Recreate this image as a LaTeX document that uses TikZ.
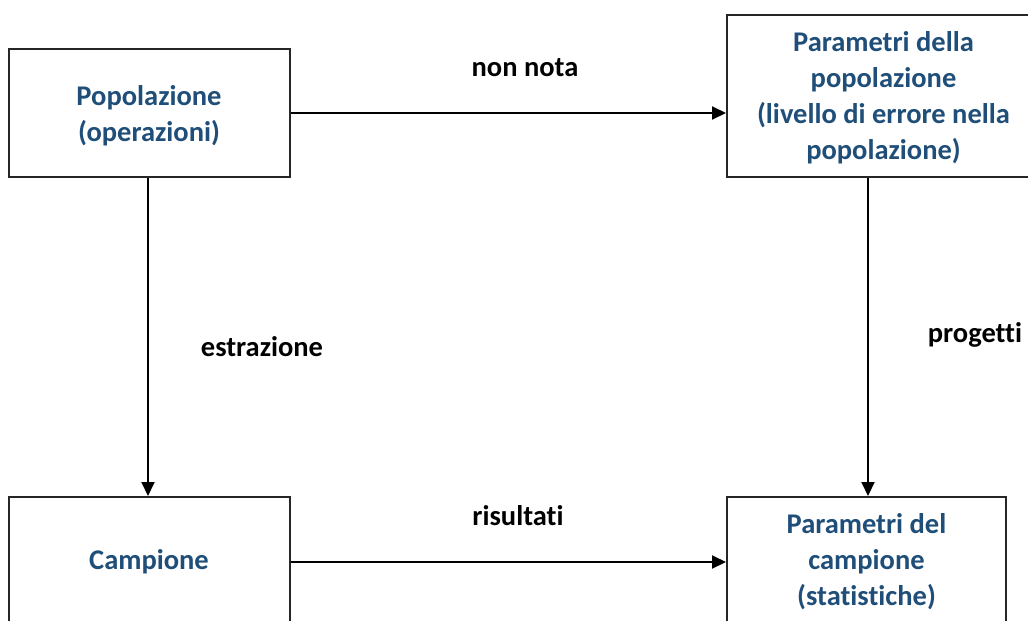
\documentclass[tikz,border=0pt]{standalone}
\usepackage{fontspec}
\setmainfont{Carlito}[Ligatures={NoCommon}]
\usetikzlibrary{arrows.meta}
\definecolor{boxtext}{HTML}{1F4E79}
\definecolor{boxline}{HTML}{262626}
\tikzset{
  box/.style={draw=boxline, line width=2pt, rectangle, inner sep=0pt},
  boxlabel/.style={text=boxtext, font=\fontsize{28.5}{36}\selectfont\bfseries, align=center, inner sep=0pt},
  edgelabel/.style={text=black, font=\fontsize{28.5}{36}\selectfont\bfseries, inner sep=0pt},
  conn/.style={draw=black, line width=2pt, -{Triangle[length=14pt,width=13pt]}}
}
\begin{document}
\begin{tikzpicture}[x=1pt,y=-1pt]
\useasboundingbox (0,0) rectangle (1028,621);
\clip (0,0) rectangle (1028,621);
\fill[white] (0,0) rectangle (1028,621);
% boxes
\node[box, minimum width=281pt, minimum height=128pt] (pop) at (149,113) {};
\node[box, minimum width=313pt, minimum height=162pt] (pp) at (883.5,96) {};
\node[box, minimum width=281pt, minimum height=150pt] (camp) at (149,572) {};
\node[box, minimum width=279pt, minimum height=150pt] (pc) at (866.5,572) {};
% box texts
\node[boxlabel] (popt) at (149,116) {Popolazione\\(operazioni)};
\node[boxlabel] (ppt) at (883.5,98) {Parametri della\\popolazione\\(livello di errore nella\\popolazione)};
\node[boxlabel] (campt) at (149,562) {Campione};
\node[boxlabel] (pct) at (866.5,562) {Parametri del\\campione\\(statistiche)};
% connectors
\coordinate (a1) at (pop.east |- 0,113);
\coordinate (a2) at (pp.west |- 0,113);
\draw[conn] (a1) -- (a2);
\coordinate (b1) at (148,177);
\draw[conn] (pop.south -| b1) -- (camp.north -| b1);
\coordinate (c1) at (868,177);
\draw[conn] (pp.south -| c1) -- (pc.north -| c1);
\coordinate (d1) at (camp.east |- 0,562);
\coordinate (d2) at (pc.west |- 0,562);
\draw[conn] (d1) -- (d2);
% edge labels
\node[edgelabel] (l1) at (525,68) {non nota};
\node[edgelabel] (l2) at (262,347) {estrazione};
\node[edgelabel] (l3) at (975,335) {progetti};
\node[edgelabel] (l4) at (518,516) {risultati};
\end{tikzpicture}
\end{document}
